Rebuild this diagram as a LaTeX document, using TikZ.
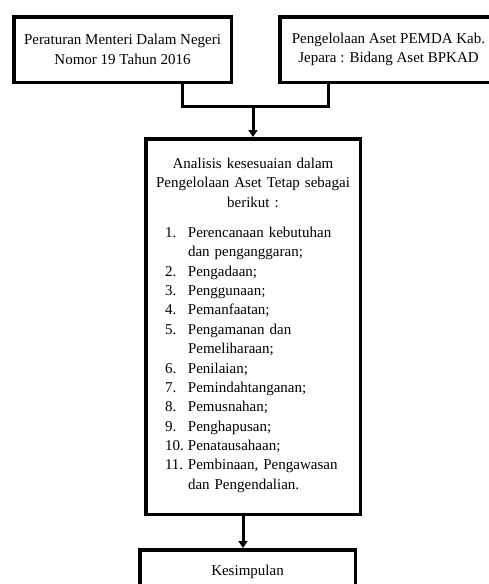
\documentclass[tikz,border=0pt]{standalone}
\usepackage{fontspec}
\setmainfont{Liberation Serif}
\usetikzlibrary{positioning, arrows.meta}
\tikzstyle{box} = [rectangle, draw=black, line width=3.5pt, minimum width=217.5pt, minimum height=65.5pt, inner sep=0pt, align=center, font=\fontsize{15pt}{19.35pt}\selectfont]
\tikzstyle{line} = [line width=3pt]
\tikzstyle{arrow} = [line width=3pt,-{Triangle[width=9pt,length=7pt]}]

\begin{document}
\begin{tikzpicture}[x=1pt, y=-1pt]
        \useasboundingbox (0,0) rectangle (488,584);
        \node (peraturan) [box] at (122.5,49.5) {Peraturan Menteri Dalam Negeri\\ Nomor 19 Tahun 2016};
        \node (pengelolaan) [box, right=45pt of peraturan] {Pengelolaan Aset PEMDA Kab.\\ Jepara : Bidang Aset BPKAD};
        \coordinate (join) at (253,106);
        \node (analisis) [box, minimum width=214.5pt, minimum height=375.5pt, text width=200pt, below=31pt of join] {Analisis kesesuaian dalam\\ Pengelolaan Aset Tetap sebagai\\ berikut :\\[11pt]
        \begin{tabular}[t]{@{}p{23pt}@{}p{153pt}@{}}
        1. & Perencanaan kebutuhan\\
           & dan penganggaran;\\
        2. & Pengadaan;\\
        3. & Penggunaan;\\
        4. & Pemanfaatan;\\
        5. & Pengamanan dan\\
           & Pemeliharaan;\\
        6. & Penilaian;\\
        7. & Pemindahtanganan;\\
        8. & Pemusnahan;\\
        9. & Penghapusan;\\
        10. & Penatausahaan;\\
        11. & Pembinaan, Pengawasan\\
            & dan Pengendalian.
        \end{tabular}};
        \node (kesimpulan) [box, minimum width=215.5pt, minimum height=43.5pt, below=32pt of analisis, xshift=-5.5pt] {Kesimpulan};

        \draw [line] ([xshift=59.5pt]peraturan.south) |- (join) -| ([xshift=-60.5pt]pengelolaan.south);
        \draw [arrow] (join) -- (analisis);
        \draw [arrow] ([xshift=-10pt]analisis.south) -- ([xshift=-10pt]analisis.south |- kesimpulan.north);

        \end{tikzpicture}
\end{document}
